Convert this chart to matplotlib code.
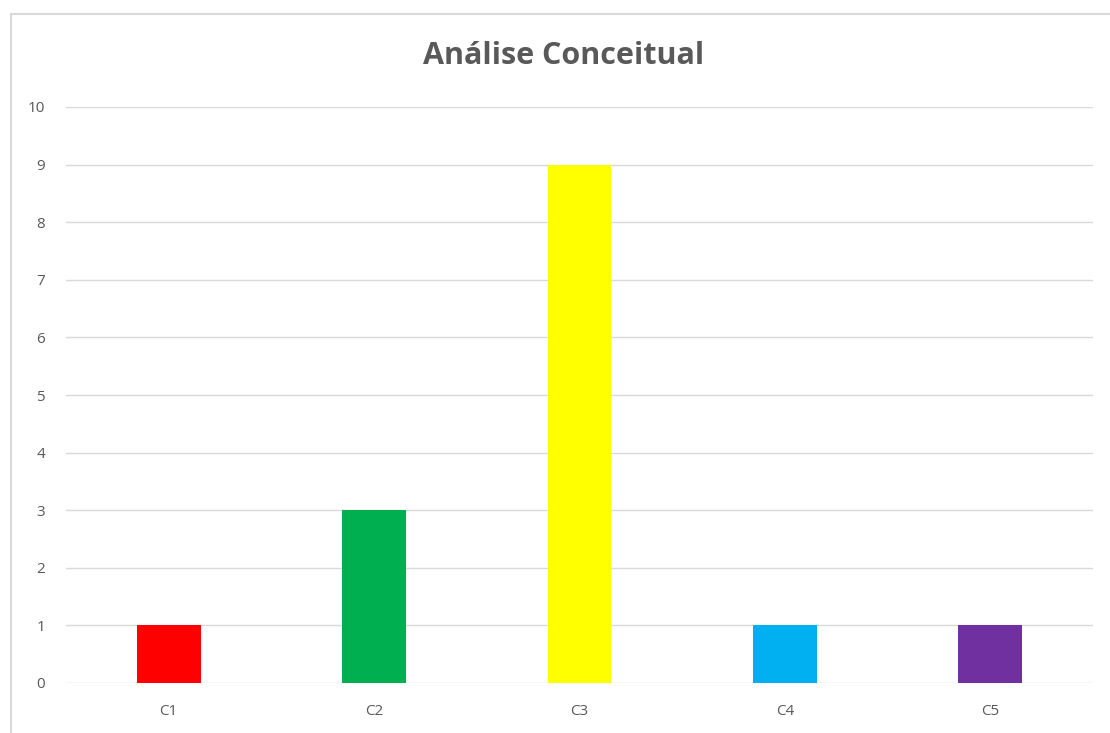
import matplotlib
matplotlib.use('Agg')
import matplotlib.pyplot as plt
from matplotlib.patches import Rectangle

categories = ['C1', 'C2', 'C3', 'C4', 'C5']
values = [1, 3, 9, 1, 1]
colors = ['#ff0000', '#00b050', '#ffff00', '#00b0f0', '#7030a0']
yticks = list(range(0, 11))

W, H = 1110, 733
fig = plt.figure(figsize=(W / 100, H / 100), dpi=100)
plt.rcParams['font.family'] = ['Open Sans', 'DejaVu Sans']

# chart border
fig.patches.append(Rectangle((11 / W, -0.1), 1.2, 1 - 14 / H + 0.1,
                             transform=fig.transFigure, fill=False,
                             edgecolor='#d9d9d9', linewidth=1.5))

ax = fig.add_axes([66 / W, 1 - 683 / H, (1093 - 66) / W, (683 - 107) / H])
ax.bar(categories, values, width=0.31, color=colors, zorder=3)

ax.set_ylim(0, 10)
ax.set_xlim(-0.5, len(categories) - 0.5)
ax.set_yticks(yticks)
ax.yaxis.grid(True, color='#d9d9d9', linewidth=1)
for s in ax.spines.values():
    s.set_visible(False)
ax.tick_params(axis='both', length=0, labelsize=11, colors='#595959')
ax.tick_params(axis='y', pad=15)
ax.tick_params(axis='x', pad=15)

fig.text(564 / W, 1 - 56 / H, 'Análise Conceitual', ha='center', va='center',
         fontsize=22, fontweight='bold', color='#595959')

plt.savefig('out.png', dpi=100)
plt.close()
